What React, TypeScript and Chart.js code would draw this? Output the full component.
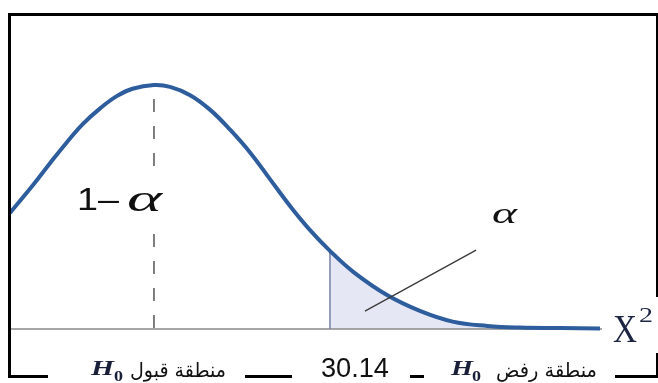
import { useEffect, useRef } from "react";
import { Chart, registerables } from "chart.js";

Chart.register(...registerables);

// chi-square (df = 19) density
const chiX = [6.25, 8, 9.25, 10.5, 11.7, 13, 14.25, 15.4, 17, 18.2, 19.7, 21.2, 22.7, 24.2, 25.7, 27.2, 28.6, 30.14, 31.9, 34.4, 36.9, 39.3, 41.9, 44.3, 47.3, 50.3];
const density = [0.0324, 0.0403, 0.0463, 0.0521, 0.0572, 0.0616, 0.065, 0.067, 0.068, 0.0675, 0.0652, 0.0611, 0.0555, 0.0491, 0.0416, 0.0341, 0.0278, 0.0218, 0.0159, 0.0095, 0.005, 0.0021, 0.0009, 0.00045, 0.0003, 0.0002];
const criticalValue = 30.14;
const modeValue = 17;
const modeDensity = 0.068;
const xMin = 6.25;
const xMax = 50.3;
const axisEnd = 50.45;
const pointerX = [32.75, 41.05];
const pointerY = [0.005, 0.022];

const acceptLabel = "منطقة قبول";
const rejectLabel = "منطقة رفض";
const criticalLabel = "30.14";
const alphaLabel = "α";
const oneMinusLabel = "1–";

function fitText(
  ctx: CanvasRenderingContext2D,
  text: string,
  x: number,
  baseline: number,
  width: number,
  font: string,
  color: string
) {
  ctx.save();
  ctx.font = font;
  ctx.textAlign = "left";
  ctx.textBaseline = "alphabetic";
  const m = ctx.measureText(text).width || 1;
  const sx = width / m;
  ctx.translate(x, baseline);
  ctx.scale(sx, 1);
  ctx.fillStyle = color;
  ctx.fillText(text, 0, 0);
  ctx.restore();
}

const decorPlugin = {
  id: "decor",
  afterDatasetsDraw(chart: any) {
    const ctx: CanvasRenderingContext2D = chart.ctx;
    ctx.save();
    ctx.fillStyle = "#ffffff";
    ctx.fillRect(140, 168, 28, 66);
    ctx.restore();
  },
  afterDraw(chart: any) {
    const ctx: CanvasRenderingContext2D = chart.ctx;
    ctx.save();
    // frame
    ctx.strokeStyle = "#000";
    ctx.lineWidth = 3;
    ctx.beginPath();
    ctx.moveTo(8, 14.5);
    ctx.lineTo(658, 14.5);
    ctx.moveTo(9.5, 13);
    ctx.lineTo(9.5, 378);
    ctx.moveTo(8, 376.5);
    ctx.lineTo(658, 376.5);
    ctx.stroke();
    ctx.lineWidth = 2;
    ctx.beginPath();
    ctx.moveTo(657, 13);
    ctx.lineTo(657, 378);
    ctx.stroke();
    // label backgrounds
    ctx.fillStyle = "#ffffff";
    ctx.fillRect(48, 366, 197, 17);
    ctx.fillRect(292, 366, 118, 17);
    ctx.fillRect(424, 366, 191, 17);
    ctx.fillRect(652, 297, 6, 56);
    ctx.restore();

    const xs = chart.scales.x;
    const cx = xs.getPixelForValue(criticalValue);
    const mx = xs.getPixelForValue(modeValue);

    // 1 - alpha
    fitText(ctx, oneMinusLabel, mx - 77, 210, 42, "31px 'Liberation Sans', Arial, sans-serif", "#111");
    fitText(ctx, alphaLabel, mx - 27, 211, 35, "italic 37px 'Liberation Serif', serif", "#111");
    // alpha
    fitText(ctx, alphaLabel, 492, 223, 25, "italic 30px 'Liberation Serif', serif", "#111");
    // X^2
    fitText(ctx, "X", 613, 342, 24, "41px 'Liberation Serif', serif", "#1c2541");
    fitText(ctx, "2", 639, 322, 14, "22px 'Liberation Serif', serif", "#1c2541");

    // bottom labels
    const arab = "20px 'DejaVu Sans', 'Noto Sans', sans-serif";
    fitText(ctx, "H", 91, 375, 23, "italic bold 20px 'Liberation Serif', serif", "#1a1f3a");
    fitText(ctx, "0", 114, 381, 9, "bold 14px 'Liberation Serif', serif", "#1a1f3a");
    fitText(ctx, acceptLabel, 130, 377, 96, arab, "#111");

    fitText(ctx, criticalLabel, cx - 9, 377, 68, "27px 'Liberation Sans', Arial, sans-serif", "#111");

    fitText(ctx, "H", 451, 375, 22, "italic bold 20px 'Liberation Serif', serif", "#1a1f3a");
    fitText(ctx, "0", 472, 381, 9, "bold 14px 'Liberation Serif', serif", "#1a1f3a");
    fitText(ctx, rejectLabel, 496, 377, 101, arab, "#111");
  },
};

export default function App() {
  const ref = useRef<HTMLCanvasElement | null>(null);

  useEffect(() => {
    if (!ref.current) return;
    const curve = chiX.map((x, i) => ({ x, y: density[i] }));
    const tail = curve.filter((p) => p.x >= criticalValue);
    const critIdx = chiX.indexOf(criticalValue);
    const chart = new Chart(ref.current, {
      type: "line",
      data: {
        datasets: [
          {
            label: "pointer",
            data: [
              { x: pointerX[0], y: pointerY[0] },
              { x: pointerX[1], y: pointerY[1] },
            ],
            borderColor: "#3a3a3a",
            borderWidth: 1.3,
            pointRadius: 0,
            fill: false,
            order: 0,
            clip: false,
          },
          {
            label: "curve",
            data: curve,
            borderColor: "#2d5d9d",
            borderWidth: 4,
            pointRadius: 0,
            tension: 0.4,
            fill: false,
            order: 1,
            clip: false,
          },
          {
            label: "critical",
            data: [
              { x: criticalValue, y: 0 },
              { x: criticalValue, y: density[critIdx] },
            ],
            borderColor: "#7682a4",
            borderWidth: 1.5,
            pointRadius: 0,
            fill: false,
            order: 2,
            clip: false,
          },
          {
            label: "mode",
            data: [
              { x: modeValue, y: modeDensity },
              { x: modeValue, y: -0.0018 },
            ],
            borderColor: "#555555",
            borderWidth: 1.5,
            borderDash: [13, 14],
            borderDashOffset: 13,
            pointRadius: 0,
            fill: false,
            order: 3,
            clip: false,
          },
          {
            label: "axis",
            data: [
              { x: xMin, y: 0 },
              { x: axisEnd, y: 0 },
            ],
            borderColor: "#8a8a8a",
            borderWidth: 1.5,
            pointRadius: 0,
            fill: false,
            order: 4,
            clip: false,
          },
          {
            label: "tail",
            data: tail,
            borderWidth: 0,
            borderColor: "rgba(0,0,0,0)",
            backgroundColor: "#e5e7f5",
            pointRadius: 0,
            tension: 0.4,
            fill: "origin",
            order: 5,
            clip: false,
          },
        ],
      },
      options: {
        animation: false,
        responsive: true,
        maintainAspectRatio: false,
        layout: { padding: { left: 10, right: 58, top: 60, bottom: 18 } },
        plugins: {
          legend: { display: false },
          tooltip: { enabled: false },
          title: { display: false },
        },
        scales: {
          x: { type: "linear", min: xMin, max: xMax, display: false },
          y: { type: "linear", min: -0.01, max: 0.075, display: false },
        },
      },
      plugins: [decorPlugin],
    } as any);
    return () => chart.destroy();
  }, []);

  return (
    <div style={{ position: "fixed", left: 0, top: 0, width: 658, height: 383, background: "#fff" }}>
      <canvas ref={ref} />
    </div>
  );
}
